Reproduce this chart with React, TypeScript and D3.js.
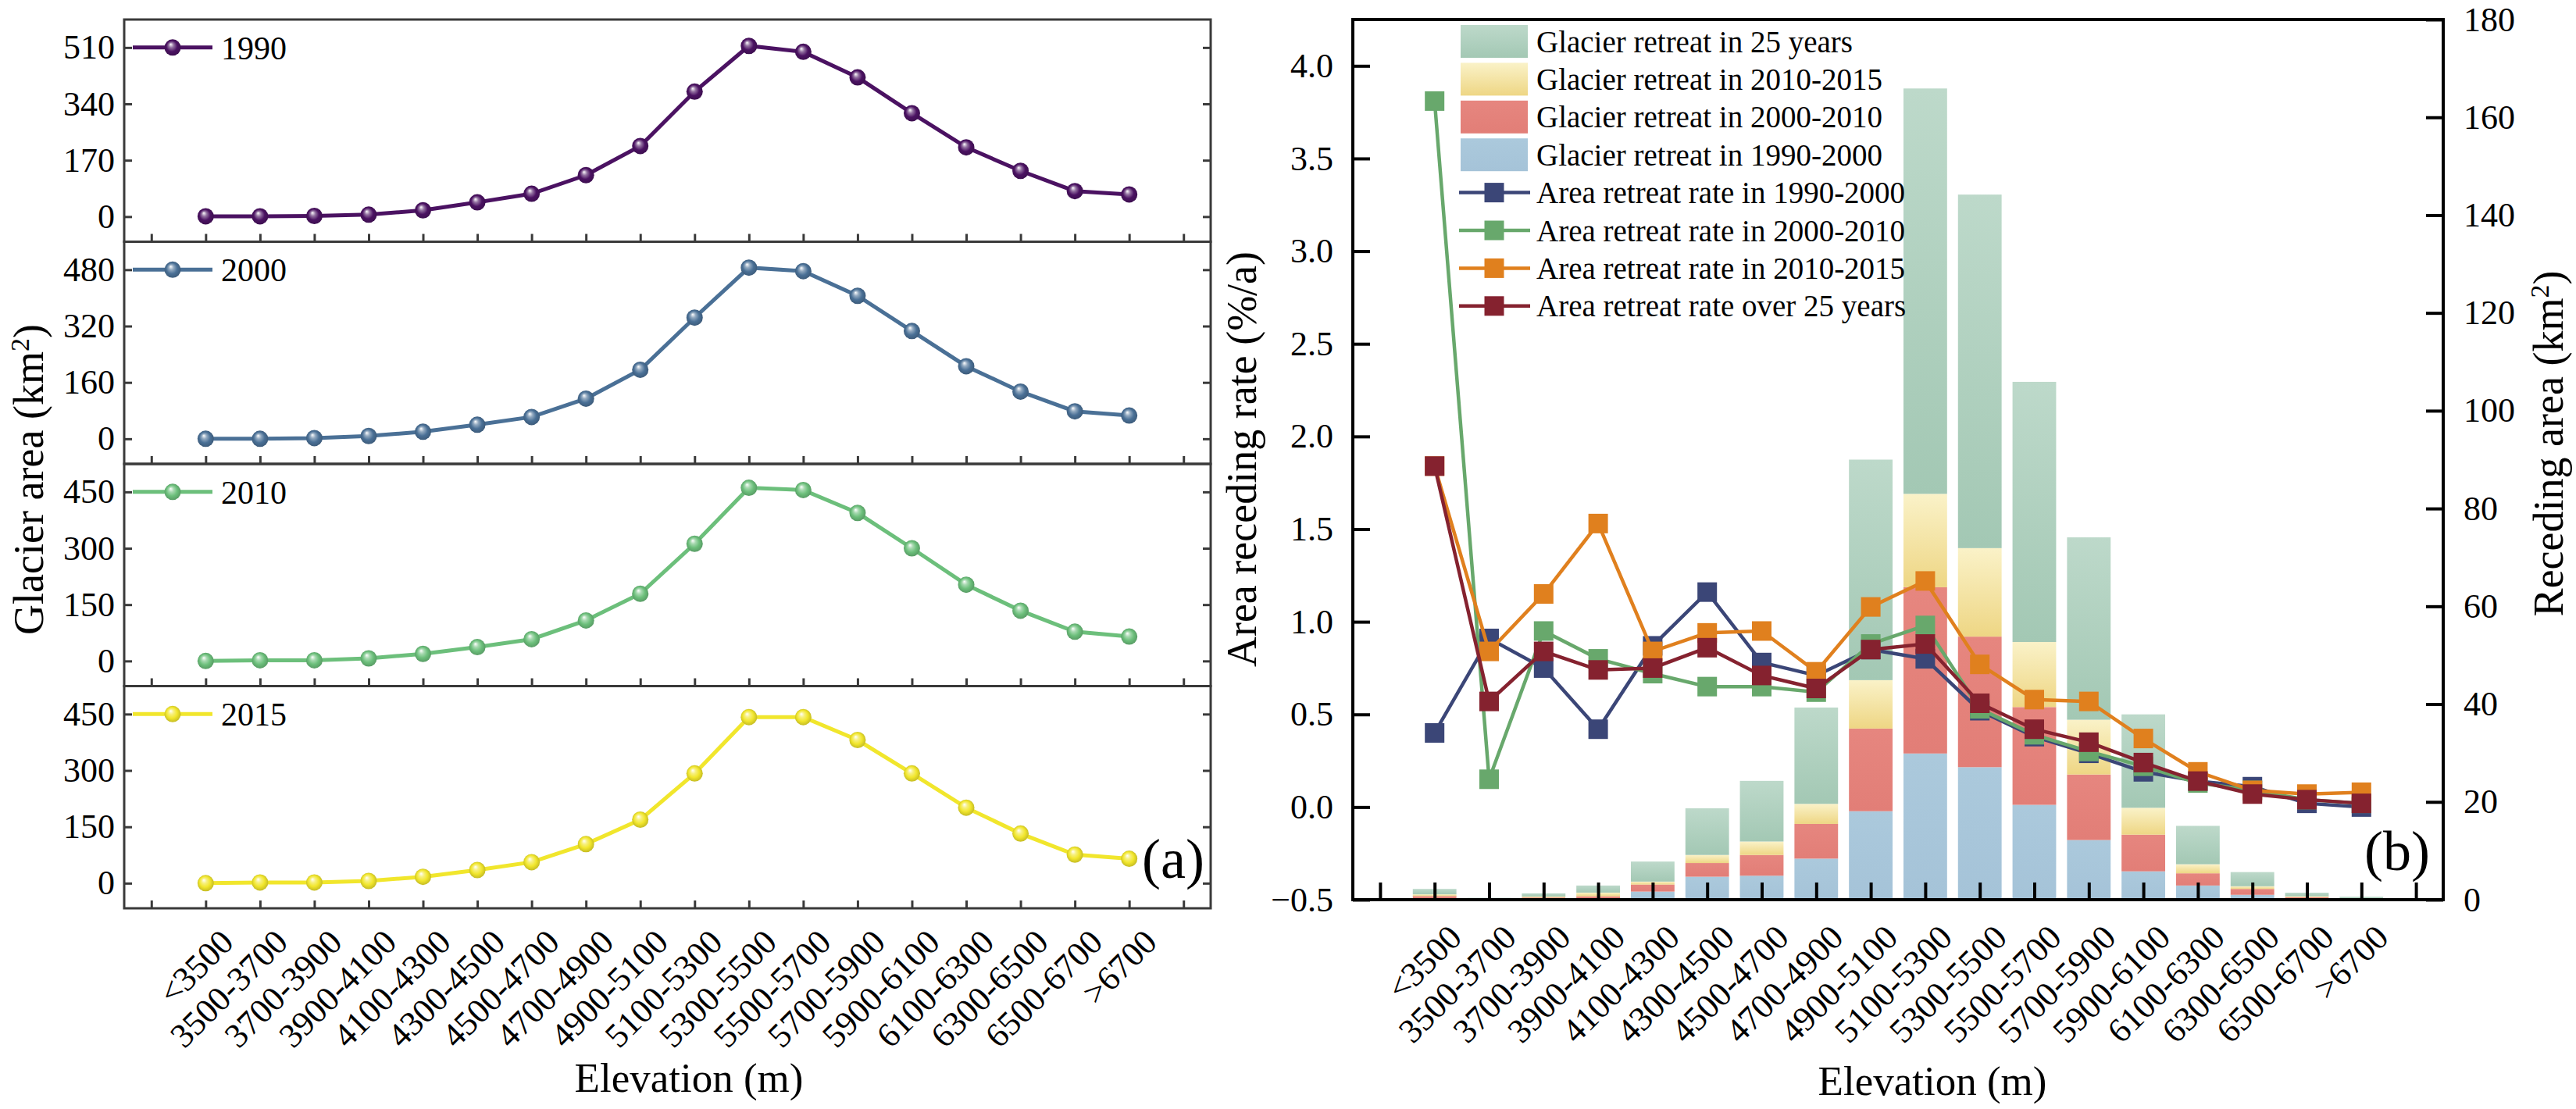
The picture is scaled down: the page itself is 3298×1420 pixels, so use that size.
import * as d3 from 'd3';
import { useEffect, useRef } from 'react';

const W = 3298;
const H = 1420;
const FONT = '"Liberation Serif", "Times New Roman", serif';

const elevations = [
  '<3500', '3500-3700', '3700-3900', '3900-4100', '4100-4300', '4300-4500',
  '4500-4700', '4700-4900', '4900-5100', '5100-5300', '5300-5500', '5500-5700',
  '5700-5900', '5900-6100', '6100-6300', '6300-6500', '6500-6700', '>6700',
];

// panel (a): glacier area per elevation band, km2
const area1990 = [1, 1, 2, 6, 19, 43, 69, 125, 213, 377, 515, 497, 420, 312, 209, 138, 77, 67];
const area2000 = [0, 0, 2, 8, 20, 40, 62, 114, 196, 344, 486, 476, 406, 306, 206, 134, 78, 66];
const area2010 = [0, 2, 2, 7, 19, 37, 58, 108, 179, 312, 461, 455, 394, 300, 203, 134, 78, 65];
const area2015 = [0, 2, 2, 6, 17, 35, 56, 104, 169, 292, 442, 442, 381, 292, 201, 132, 76, 65];

const ticks1990 = [0, 170, 340, 510];
const ticks2000 = [0, 160, 320, 480];
const ticks2010 = [0, 150, 300, 450];
const ticks2015 = [0, 150, 300, 450];

// panel (b): receding area per period, km2
const retreat9000 = [0.15, 0.05, 0.1, 0.2, 1.66, 4.7, 4.9, 8.4, 18.1, 29.9, 27.1, 19.4, 12.2, 5.8, 2.9, 1.0, 0.2, 0.1];
const retreat0010 = [0.6, 0.1, 0.35, 0.5, 1.44, 2.8, 4.25, 7.1, 16.9, 34.0, 26.7, 20.0, 13.4, 7.5, 2.5, 1.2, 0.3, 0.1];
const retreat1015 = [0.35, 0.05, 0.2, 0.75, 0.6, 1.65, 2.75, 4.1, 9.9, 19.1, 18.1, 13.3, 11.2, 5.5, 1.85, 0.55, 0.2, 0.1];
const retreat25 = [1.1, 0.2, 0.65, 1.45, 4.1, 9.55, 12.4, 19.7, 45.1, 82.9, 72.3, 53.2, 37.3, 19.1, 7.85, 2.9, 0.73, 0.3];

// panel (b): area retreat rate, %/a
const rate9000 = [0.40, 0.91, 0.75, 0.42, 0.87, 1.16, 0.78, 0.71, 0.85, 0.80, 0.52, 0.38, 0.29, 0.19, 0.14, 0.11, 0.02, 0.00];
const rate0010 = [3.81, 0.15, 0.95, 0.80, 0.72, 0.65, 0.65, 0.62, 0.88, 0.98, 0.53, 0.39, 0.30, 0.22, 0.13, 0.09, 0.04, 0.02];
const rate1015 = [1.84, 0.84, 1.15, 1.53, 0.84, 0.94, 0.95, 0.73, 1.08, 1.22, 0.77, 0.58, 0.57, 0.37, 0.19, 0.09, 0.07, 0.08];
const rate25 = [1.84, 0.57, 0.84, 0.74, 0.75, 0.86, 0.71, 0.64, 0.85, 0.88, 0.56, 0.42, 0.35, 0.24, 0.14, 0.07, 0.04, 0.02];

const rateTicks = [-0.5, 0, 0.5, 1, 1.5, 2, 2.5, 3, 3.5, 4];
const recedeTicks = [0, 20, 40, 60, 80, 100, 120, 140, 160, 180];

type Sel = d3.Selection<SVGGElement, unknown, null, undefined>;
type Defs = d3.Selection<SVGDefsElement, unknown, null, undefined>;
type Root = d3.Selection<SVGSVGElement, unknown, null, undefined>;

function sphereGradient(defs: Defs, id: string, color: string) {
  const g = defs
    .append('radialGradient')
    .attr('id', id)
    .attr('cx', '0.5')
    .attr('cy', '0.5')
    .attr('r', '0.55')
    .attr('fx', '0.38')
    .attr('fy', '0.3');
  const c = d3.color(color)!;
  g.append('stop').attr('offset', '0%').attr('stop-color', '#ffffff');
  g.append('stop').attr('offset', '28%').attr('stop-color', d3.interpolateRgb('#ffffff', color)(0.6));
  g.append('stop').attr('offset', '60%').attr('stop-color', color);
  g.append('stop').attr('offset', '100%').attr('stop-color', c.darker(0.7).formatHex());
}

function barGradient(defs: Defs, id: string, top: string, bottom: string) {
  const g = defs.append('linearGradient').attr('id', id).attr('x1', 0).attr('y1', 0).attr('x2', 0).attr('y2', 1);
  g.append('stop').attr('offset', '0%').attr('stop-color', top);
  g.append('stop').attr('offset', '100%').attr('stop-color', bottom);
}

function styleAxis(g: Sel, width: number, color: string) {
  g.select('.domain').remove();
  g.selectAll('.tick line').attr('stroke', color).attr('stroke-width', width);
  g.selectAll('.tick text').attr('fill', '#000').style('font-family', FONT).style('font-size', '44px');
}

function categoryLabels(svg: Root, x: d3.ScaleLinear<number, number>, axisY: number, dx: number, dy: number) {
  svg
    .append('g')
    .selectAll('text')
    .data(elevations)
    .join('text')
    .attr('transform', (_, i) => `translate(${x(i + 1) + dx},${axisY + dy}) rotate(-45)`)
    .attr('text-anchor', 'end')
    .style('font-family', FONT)
    .style('font-size', '44px')
    .text((d) => d);
}

function drawAreaPanels(svg: Root, defs: Defs) {
  const x0 = 159;
  const x1 = 1550;
  const y0 = 25;
  const y1 = 1163;
  const ph = (y1 - y0) / 4;
  const frame = '#3a3a3a';

  const x = d3.scaleLinear().domain([-0.5, 19.5]).range([x0, x1]);

  const series = [
    { year: '1990', values: area1990, ticks: ticks1990, color: '#4b1262' },
    { year: '2000', values: area2000, ticks: ticks2000, color: '#4a7096' },
    { year: '2010', values: area2010, ticks: ticks2010, color: '#6cbf7b' },
    { year: '2015', values: area2015, ticks: ticks2015, color: '#f1e62c' },
  ];

  series.forEach((s, k) => {
    const top = y0 + k * ph;
    const bot = top + ph;
    const maxTick = s.ticks[s.ticks.length - 1];
    const span = maxTick / 0.761;
    const y = d3.scaleLinear().domain([-0.113 * span, 0.887 * span]).range([bot, top]);
    const gid = `sphere${k}`;
    sphereGradient(defs, gid, s.color);

    const g = svg.append('g');

    const left = g
      .append('g')
      .attr('transform', `translate(${x0},0)`)
      .call(d3.axisLeft(y).tickValues(s.ticks).tickSizeInner(-10).tickSizeOuter(0).tickPadding(12));
    styleAxis(left, 3, frame);

    const right = g
      .append('g')
      .attr('transform', `translate(${x1},0)`)
      .call(d3.axisRight(y).tickValues(s.ticks).tickSizeInner(-10).tickSizeOuter(0).tickFormat(() => ''));
    styleAxis(right, 3, frame);

    const bottom = g
      .append('g')
      .attr('transform', `translate(0,${bot})`)
      .call(d3.axisBottom(x).tickValues(d3.range(20)).tickSizeInner(-10).tickSizeOuter(0).tickFormat(() => ''));
    styleAxis(bottom, 3, frame);

    g.append('rect')
      .attr('x', x0)
      .attr('y', top)
      .attr('width', x1 - x0)
      .attr('height', ph)
      .attr('fill', 'none')
      .attr('stroke', frame)
      .attr('stroke-width', 3);

    const line = d3
      .line<number>()
      .x((_, i) => x(i + 1))
      .y((d) => y(d));

    g.append('path')
      .datum(s.values)
      .attr('d', line)
      .attr('fill', 'none')
      .attr('stroke', s.color)
      .attr('stroke-width', 5);

    g.selectAll('circle.pt')
      .data(s.values)
      .join('circle')
      .attr('class', 'pt')
      .attr('cx', (_, i) => x(i + 1))
      .attr('cy', (d) => y(d))
      .attr('r', 10.5)
      .attr('fill', `url(#${gid})`);

    // legend
    const ly = y(maxTick);
    g.append('line')
      .attr('x1', 170)
      .attr('x2', 272)
      .attr('y1', ly)
      .attr('y2', ly)
      .attr('stroke', s.color)
      .attr('stroke-width', 5);
    g.append('circle').attr('cx', 221).attr('cy', ly).attr('r', 10.5).attr('fill', `url(#${gid})`);
    g.append('text')
      .attr('x', 283)
      .attr('y', ly)
      .attr('dy', '0.35em')
      .style('font-family', FONT)
      .style('font-size', '42px')
      .text(s.year);
  });

  categoryLabels(svg, x, y1, 38, 46);

  svg
    .append('text')
    .attr('x', 882)
    .attr('y', 1398)
    .attr('text-anchor', 'middle')
    .style('font-family', FONT)
    .style('font-size', '53px')
    .text('Elevation (m)');

  const yt = svg
    .append('text')
    .attr('transform', 'translate(55,614) rotate(-90)')
    .attr('text-anchor', 'middle')
    .style('font-family', FONT)
    .style('font-size', '54px');
  yt.append('tspan').text('Glacier area (km');
  yt.append('tspan').attr('baseline-shift', 'super').style('font-size', '34px').text('2');
  yt.append('tspan').text(')');

  svg
    .append('text')
    .attr('x', 1542)
    .attr('y', 1124)
    .attr('text-anchor', 'end')
    .style('font-family', FONT)
    .style('font-size', '72px')
    .text('(a)');
}

function drawRetreatPanel(svg: Root, defs: Defs) {
  const x0 = 1732;
  const x1 = 3128;
  const y0 = 25;
  const y1 = 1152;

  const x = d3.scaleLinear().domain([-0.5, 19.5]).range([x0, x1]);
  const yRate = d3.scaleLinear().domain([-0.5, 4.25]).range([y1, y0]);
  const yArea = d3.scaleLinear().domain([0, 180]).range([y1, y0]);
  const bw = (x(1) - x(0)) * 0.8;

  barGradient(defs, 'gBlue', '#abc9dc', '#a5c3d8');
  barGradient(defs, 'gRed', '#e6867f', '#e27e77');
  barGradient(defs, 'gYellow', '#faf2c8', '#eed684');
  barGradient(defs, 'gGreen', '#bdd9ca', '#a3c8b4');

  const keys = ['p1', 'p2', 'p3', 'p25'];
  const fills: Record<string, string> = { p1: 'url(#gBlue)', p2: 'url(#gRed)', p3: 'url(#gYellow)', p25: 'url(#gGreen)' };
  const table = elevations.map((e, i) => ({
    e,
    p1: retreat9000[i],
    p2: retreat0010[i],
    p3: retreat1015[i],
    p25: retreat25[i],
  }));
  const stacked = d3.stack<(typeof table)[number]>().keys(keys)(table);

  const bars = svg.append('g');
  stacked.forEach((layer) => {
    bars
      .append('g')
      .selectAll('rect')
      .data(layer)
      .join('rect')
      .attr('x', (_, i) => x(i + 1) - bw / 2)
      .attr('width', bw)
      .attr('y', (d) => yArea(d[1]))
      .attr('height', (d) => Math.max(0, yArea(d[0]) - yArea(d[1])))
      .attr('fill', fills[layer.key]);
  });

  // axes
  const left = svg
    .append('g')
    .attr('transform', `translate(${x0},0)`)
    .call(
      d3
        .axisLeft(yRate)
        .tickValues(rateTicks)
        .tickSizeInner(-22)
        .tickSizeOuter(0)
        .tickPadding(25)
        .tickFormat((d) => d3.format('.1f')(d as number)),
    );
  styleAxis(left, 4, '#000');

  const right = svg
    .append('g')
    .attr('transform', `translate(${x1},0)`)
    .call(d3.axisRight(yArea).tickValues(recedeTicks).tickSizeInner(-22).tickSizeOuter(0).tickPadding(26));
  styleAxis(right, 4, '#000');

  const bottom = svg
    .append('g')
    .attr('transform', `translate(0,${y1})`)
    .call(d3.axisBottom(x).tickValues(d3.range(20)).tickSizeInner(-22).tickSizeOuter(0).tickFormat(() => ''));
  styleAxis(bottom, 4, '#000');

  svg
    .append('rect')
    .attr('x', x0)
    .attr('y', y0)
    .attr('width', x1 - x0)
    .attr('height', y1 - y0)
    .attr('fill', 'none')
    .attr('stroke', '#000')
    .attr('stroke-width', 4);

  const rateSeries = [
    { name: 'Area retreat rate in 1990-2000', values: rate9000, color: '#3b4677' },
    { name: 'Area retreat rate in 2000-2010', values: rate0010, color: '#68a86c' },
    { name: 'Area retreat rate in 2010-2015', values: rate1015, color: '#e0801e' },
    { name: 'Area retreat rate over 25 years', values: rate25, color: '#85222f' },
  ];

  const line = d3
    .line<number>()
    .x((_, i) => x(i + 1))
    .y((d) => yRate(d));

  const ms = 25;
  rateSeries.forEach((s) => {
    const g = svg.append('g');
    g.append('path')
      .datum(s.values)
      .attr('d', line)
      .attr('fill', 'none')
      .attr('stroke', s.color)
      .attr('stroke-width', 4.5);
    g.selectAll('rect')
      .data(s.values)
      .join('rect')
      .attr('x', (_, i) => x(i + 1) - ms / 2)
      .attr('y', (d) => yRate(d) - ms / 2)
      .attr('width', ms)
      .attr('height', ms)
      .attr('fill', s.color);
  });

  // legend
  const legend = svg.append('g');
  const rowY = (i: number) => 53 + i * 48.4;
  const swatches = [
    { name: 'Glacier retreat in 25 years', fill: 'url(#gGreen)' },
    { name: 'Glacier retreat in 2010-2015', fill: 'url(#gYellow)' },
    { name: 'Glacier retreat in 2000-2010', fill: 'url(#gRed)' },
    { name: 'Glacier retreat in 1990-2000', fill: 'url(#gBlue)' },
  ];
  swatches.forEach((s, i) => {
    legend
      .append('rect')
      .attr('x', 1870)
      .attr('y', rowY(i) - 21)
      .attr('width', 86)
      .attr('height', 42)
      .attr('fill', s.fill);
  });
  rateSeries.forEach((s, j) => {
    const yy = rowY(j + 4);
    legend
      .append('line')
      .attr('x1', 1868)
      .attr('x2', 1959)
      .attr('y1', yy)
      .attr('y2', yy)
      .attr('stroke', s.color)
      .attr('stroke-width', 4.5);
    legend
      .append('rect')
      .attr('x', 1913 - ms / 2)
      .attr('y', yy - ms / 2)
      .attr('width', ms)
      .attr('height', ms)
      .attr('fill', s.color);
  });
  const labels = [...swatches.map((s) => s.name), ...rateSeries.map((s) => s.name)];
  legend
    .selectAll('text')
    .data(labels)
    .join('text')
    .attr('x', 1967)
    .attr('y', (_, i) => rowY(i))
    .attr('dy', '0.35em')
    .style('font-family', FONT)
    .style('font-size', '39px')
    .text((d) => d);

  categoryLabels(svg, x, y1, 37, 51);

  svg
    .append('text')
    .attr('x', 2474)
    .attr('y', 1402)
    .attr('text-anchor', 'middle')
    .style('font-family', FONT)
    .style('font-size', '53px')
    .text('Elevation (m)');

  svg
    .append('text')
    .attr('transform', 'translate(1608,588) rotate(-90)')
    .attr('text-anchor', 'middle')
    .style('font-family', FONT)
    .style('font-size', '54px')
    .text('Area receding rate (%/a)');

  const rt = svg
    .append('text')
    .attr('transform', 'translate(3281,568) rotate(-90)')
    .attr('text-anchor', 'middle')
    .style('font-family', FONT)
    .style('font-size', '54px');
  rt.append('tspan').text('Receding area (km');
  rt.append('tspan').attr('baseline-shift', 'super').style('font-size', '34px').text('2');
  rt.append('tspan').text(')');

  svg
    .append('text')
    .attr('x', 3111)
    .attr('y', 1114)
    .attr('text-anchor', 'end')
    .style('font-family', FONT)
    .style('font-size', '72px')
    .text('(b)');
}

export default function App(): React.ReactElement {
  const svgRef = useRef<SVGSVGElement>(null);

  useEffect(() => {
    if (!svgRef.current) return;
    const svg = d3.select(svgRef.current);
    svg.selectAll('*').remove();
    const defs = svg.append('defs');
    drawAreaPanels(svg, defs);
    drawRetreatPanel(svg, defs);
  }, []);

  return (
    <svg
      ref={svgRef}
      width={W}
      height={H}
      style={{ position: 'absolute', left: 0, top: 0, background: '#ffffff' }}
    />
  );
}
